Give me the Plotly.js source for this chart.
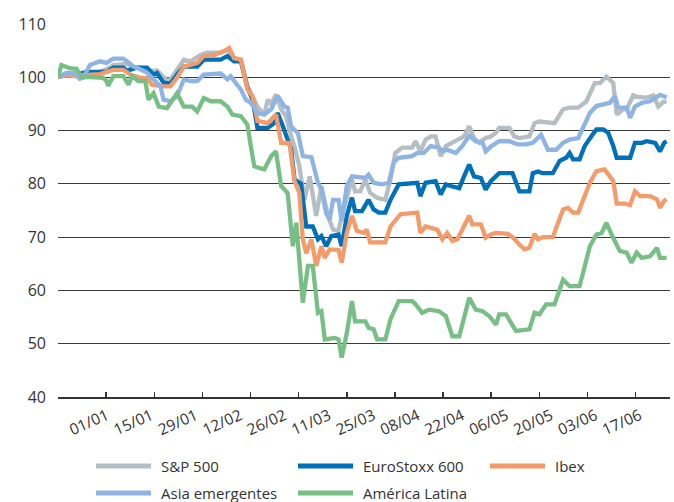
<!DOCTYPE html>
<html>
<head>
<meta charset="utf-8">
<script src="https://cdn.plot.ly/plotly-3.0.1.min.js"></script>
<style>
html,body{margin:0;padding:0;background:#fff;}
#chart{width:674px;height:502px;}
</style>
</head>
<body>
<div id="chart"></div>
<script>
// x = days since 01/01/2020
const tickLabels = ["01/01","15/01","29/01","12/02","26/02","11/03","25/03","08/04","22/04","06/05","20/05","03/06","17/06"];
const seriesNames = ["S&P 500","EuroStoxx 600","Ibex","Asia emergentes","América Latina"];
const seriesColors = ["#b5bec2","#0070b8","#f49b6c","#8eb4e3","#78bf86"];

const spDays = [0,2.4,5.4,8.3,11.2,14.1,16.1,20,22,23.9,26.8,28.8,30.7,31.7,32.7,34.6,36.6,38.5,41.5,43.4,47.3,49.3,51.2,53.2,55.1,56.6,58,60,61,62,63.4,64.9,66.3,67.8,68.8,70.2,71.7,73.2,75.1,76.6,78.5,80,81.6,82.5,84,85.5,86.4,87.9,89.4,90.8,92.8,95.2,96.7,98.1,100.1,103,104,105.4,106.9,108.4,109.8,111.3,112.8,114.7,116.7,118.1,119.6,121,122.5,124.4,125.9,127.4,128.3,131.3,132.7,134.2,137.1,138.6,140,143,144.4,146.9,148.8,151.3,153.7,156.1,157.6,159.5,161.5,162.5,164.4,165.4,167.3,168.8,171.2,173.2,174.6,176.1,177];
const spVals = [100,100.4,100.2,100.5,100.8,101.5,102.3,102.5,101.8,101.8,101.2,101.3,100,99.4,99.6,101.4,103.3,103,104.2,104.6,104.6,105.2,103.6,103.3,98.3,96.4,94.5,93,95.8,95,96.8,94,92.7,89,87,83.3,77,81.4,74,79.6,74,71.4,71.2,74,77.7,80.8,78.6,78.6,80.8,78.3,77.4,77,80.8,85.8,86.8,86.8,88,86.1,88.3,88.9,88.9,85.2,87.1,87.7,88.3,88.9,90.8,88.6,87.7,88.6,88.9,89.6,90.5,90.5,88.9,88.6,88.9,91.4,91.7,91.4,91.4,94,94.3,94.3,95.5,98.9,98.9,100.1,98.9,93,94,94,96.6,96.3,96.2,96.6,94.5,95.4,95.4];

const esDays = [0,2.4,5.4,8.3,14.1,16.1,19,20,22.9,25.9,27.8,28.8,30.7,32.7,34.6,36.6,40.5,42.4,47.3,49.3,51.2,53.2,55.1,56.6,58,61,62.9,63.9,65.4,66.8,67.8,68.8,70.7,72.2,74.1,75.6,76.6,78,79.5,81.6,82.5,84,85.5,86.4,88.4,90.3,91.8,93.3,95.2,96.7,98.1,99.1,104.5,105.4,106.9,109.8,111.3,112.8,114.2,116.7,118.1,119.6,121,123,124.4,125.9,128.3,132.2,134.2,137.1,138.1,139.6,141,143.9,145.9,147.8,148.8,149.8,151.7,153.2,155.2,156.6,158.6,160,161.5,162.5,166.4,167.8,169.8,171.2,173.7,175.1,176.3,177];
const esVals = [100,100.5,100.5,101,101,101.8,101.8,101.2,101.8,101.8,100.5,100.8,99,98.8,100.5,102,102,103.3,103.3,104,103,103,98,95.8,90.5,90.5,91.4,93.3,90.8,88.3,86.5,80.8,80,72,72,69.6,70.2,68.3,70.2,70.5,68.3,74,77.4,74.9,74.9,77,75.2,74.6,74.6,77,78.6,79.9,80.2,77.7,80.2,80.5,78,79.9,79.6,79.2,81.4,83.6,81.4,81.1,78.9,80.5,82,82,78.6,78.6,82,82.3,82,82,84.3,84.9,85.8,84.6,84.6,87.1,89,90.2,90.2,89.6,87.1,84.9,84.9,87.7,87.7,88,87.7,86.1,87.7,88];

const ibDays = [0,2.4,5.4,8.3,11.2,12.2,16.1,19,21,23.9,25.9,27.3,30.7,32.7,34.6,36.6,40.5,42.4,45.4,48.3,49.8,51.2,53.2,55.1,56.6,58,61,63.4,64.9,67.3,68.8,70.2,71.2,72.2,73.7,75.1,76.6,77.6,79,81.6,82.5,84,85.5,86.9,88.9,89.8,90.8,95.2,96.7,98.1,99.6,104.5,105.4,106.9,108.9,110.3,111.8,113.2,114.7,116.2,119.6,120.5,123,124.4,125.9,127.4,130.8,132.2,134.2,135.7,137.1,138.6,139.6,141,143.9,146.9,148.3,149.8,151.3,153.2,154.7,156.6,159,161.5,162.5,164.9,166.4,167.8,169.3,172.2,174.2,175.1,176.3,177];
const ibVals = [100,100.4,100.3,100.4,100.4,100.6,101.4,101.4,100.5,99.9,99.9,98.6,98.3,98.3,99.9,102,102.7,104,104.2,104.9,105.5,103.6,103.3,97.7,96.4,91.8,91.4,93,87.7,87.7,80.5,78.3,69.6,67,69.6,64.6,68.3,66.1,67.7,67.6,65.2,70.8,74,71.2,70.8,71.4,69,69,72,73,74.3,74.6,70.8,72,71.7,71.4,69.6,70.8,69.3,69.6,74,72.4,72.4,69.9,70.5,70.8,70.6,70,68.6,67.7,68,70.6,69.6,70,70,75.2,75.5,74.6,74.6,77.7,80.2,82.4,82.7,80.5,76.3,76.3,76,78.6,77.7,77.7,77.1,75.5,76.8,77.1];

const asDays = [0,2.4,4.9,6.3,7.3,9.3,12.2,14.1,16.1,19,20,22,23.9,25.9,27.8,29.8,30.7,32.7,34.6,36.6,38.5,40.5,42.4,47.3,49.3,50.2,52.2,53.2,54.6,56.1,58,60,62,63.9,65.9,66.8,67.8,69.8,71.2,73.7,75.6,76.6,78,79,80,81.6,82.5,84,85.5,89.4,90.3,91.8,94.2,96.2,97.6,99.1,103,104.5,106.4,108.4,110.8,111.8,113.2,115.7,117.6,119.6,121.5,123.5,124.4,125.9,128.3,131.3,133.7,136.1,138.1,140.5,142.5,144.9,146.9,148.8,151.3,152.7,154.7,156.6,160.5,162,162.9,165.4,166.4,167.8,169.8,172.2,173.7,175.1,176.3,177];
const asVals = [100,100.8,100.8,99.7,99.9,102.3,103,102.7,103.5,103.5,103,102,101.5,100.9,99.6,98.3,95.8,95.5,96.4,99.6,99.3,99.3,100.5,100.7,99.6,100.2,98.5,97.7,95.8,95.2,93.3,93,94,96.5,94.5,94.3,90.8,89.5,85.2,85,80.2,79,74.5,73.3,77,77,73,79.6,81.4,81.1,81.7,80.2,79.9,80.2,84,84.9,85.2,85.8,85.8,87.1,86.8,86.1,86.4,85.8,87.1,89,88,87.7,86.1,87,88,88,87.4,87.4,87.7,89.2,86.4,86.4,87.7,88.3,88.6,90.5,93.3,94.6,95.2,96.5,94.3,94.3,92.4,94.5,95.2,95.5,96.1,96.7,96.4,96.2];

const laDays = [0,1,3.4,5.4,6.8,8.3,13.2,14.1,14.6,16.1,19,20.5,21.5,23.4,25.4,26.3,27.8,29.3,31.7,34.6,36.6,39,40.5,42.4,44.4,47.3,49.3,50.7,53.2,55.1,56.1,57.1,60,62,63.4,64.9,66.8,68.3,69.3,71.2,72.7,74.1,75.6,76.6,77.6,80.5,81.6,82.5,84,85.5,86.4,89.4,90.3,91.8,92.8,95.2,96.7,99.1,103,104,105.9,107.9,110.8,112.8,114.7,116.7,119.6,121.5,123.5,125.4,127.4,128.3,130.3,133.2,137.1,138.6,140,142,144.4,146.9,148.8,151.7,154.7,156.6,158.1,159.5,161,163.4,165.4,166.8,168.3,169.8,172.2,174.2,175.1,177];
const laVals = [100,102.3,101.7,101.6,100,100.1,99.9,99.3,98.4,100.2,100.2,98.6,100.2,99.3,99.3,95.8,97,94.5,94.2,97,94.5,94.5,93.6,96.1,95.5,95.5,94.5,93,92.7,91.1,87,83.3,82.7,85.2,86.1,79.6,78.3,68.3,72.7,57.7,64.6,64.6,55.8,56.1,50.8,51.1,50.8,47.4,52,58,54.2,54.2,53,52.7,50.8,50.8,54.6,58,58,57.4,55.8,56.4,56.1,55.2,51.4,51.4,58.6,56.4,56.1,55.2,53.6,55.5,55.5,52.4,52.7,55.8,55.5,57.4,57.4,62,60.8,60.8,68.3,70.5,70.8,72.7,70.5,67.4,67.1,65.2,67.1,66.1,66.4,68,66.1,66.1];

const allDays = [spDays, esDays, ibDays, asDays, laDays];
const allVals = [spVals, esVals, ibVals, asVals, laVals];

const FONT = "Open Sans, Noto Sans, sans-serif";
const TXT = "#333333";

const traces = seriesNames.map((n, i) => ({
  type: "scatter", mode: "lines", name: n,
  x: allDays[i], y: allVals[i],
  xaxis: "x", yaxis: "y",
  line: {color: seriesColors[i], width: 4.3, shape: "linear"},
  showlegend: false, hoverinfo: "skip"
}));

// manual legend (layout elements, not data marks)
const legPos = [
  {x0: 96, tx: 159, y: 466}, {x0: 298, tx: 361, y: 466}, {x0: 490, tx: 553, y: 466},
  {x0: 96, tx: 159, y: 493}, {x0: 298, tx: 361, y: 493}
];
const L = 58, T = 24, W = 612, H = 373;
const px = v => (v - L) / W;
const py = v => (T + H - v) / H;
const shapes = [], annotations = [];
seriesNames.forEach((n, i) => {
  const p = legPos[i];
  shapes.push({type: "line", xref: "paper", yref: "paper",
    x0: px(p.x0), x1: px(p.x0 + 55), y0: py(p.y), y1: py(p.y),
    line: {color: seriesColors[i], width: 5}});
  annotations.push({xref: "paper", yref: "paper", x: px(p.tx), y: py(p.y),
    xanchor: "left", yanchor: "middle", showarrow: false, text: n,
    font: {family: FONT, size: 15, color: TXT}});
});

const layout = {
  width: 674, height: 502,
  margin: {l: L, r: 674 - L - W, t: T, b: 502 - T - H},
  paper_bgcolor: "#fff", plot_bgcolor: "#fff",
  font: {family: FONT, color: TXT},
  xaxis: {
    range: [0, 178], tick0: 0, dtick: 14, tickmode: "linear",
    ticks: "inside", ticklen: 5, tickwidth: 1.5, tickcolor: "#333",
    showticklabels: false, showgrid: false, zeroline: false,
    showline: true, linecolor: "#333", linewidth: 2
  },
  xaxis2: {
    overlaying: "x", anchor: "y", side: "bottom",
    range: [-1.1, 12.68], tickmode: "array",
    tickvals: tickLabels.map((_, i) => i), ticktext: tickLabels,
    ticks: "", showgrid: false, zeroline: false, showline: false,
    tickangle: -24, ticklabelstandoff: 6,
    tickfont: {family: FONT, size: 15.5, color: TXT}
  },
  yaxis: {
    range: [40, 110], tick0: 40, dtick: 10, tickmode: "linear",
    showgrid: true, gridcolor: "#3a3a3a", gridwidth: 1,
    zeroline: false, showline: false, ticks: "",
    ticklabelstandoff: 11,
    tickfont: {family: FONT, size: 16, color: TXT}
  },
  shapes: shapes,
  annotations: annotations,
  showlegend: false
};

// invisible helper trace so the label axis (xaxis2) is rendered
traces.push({type: "scatter", mode: "markers", x: [0], y: [40], xaxis: "x2", yaxis: "y",
  marker: {opacity: 0}, showlegend: false, hoverinfo: "skip"});

Plotly.newPlot("chart", traces, layout, {staticPlot: true, displayModeBar: false});
</script>
</body>
</html>
